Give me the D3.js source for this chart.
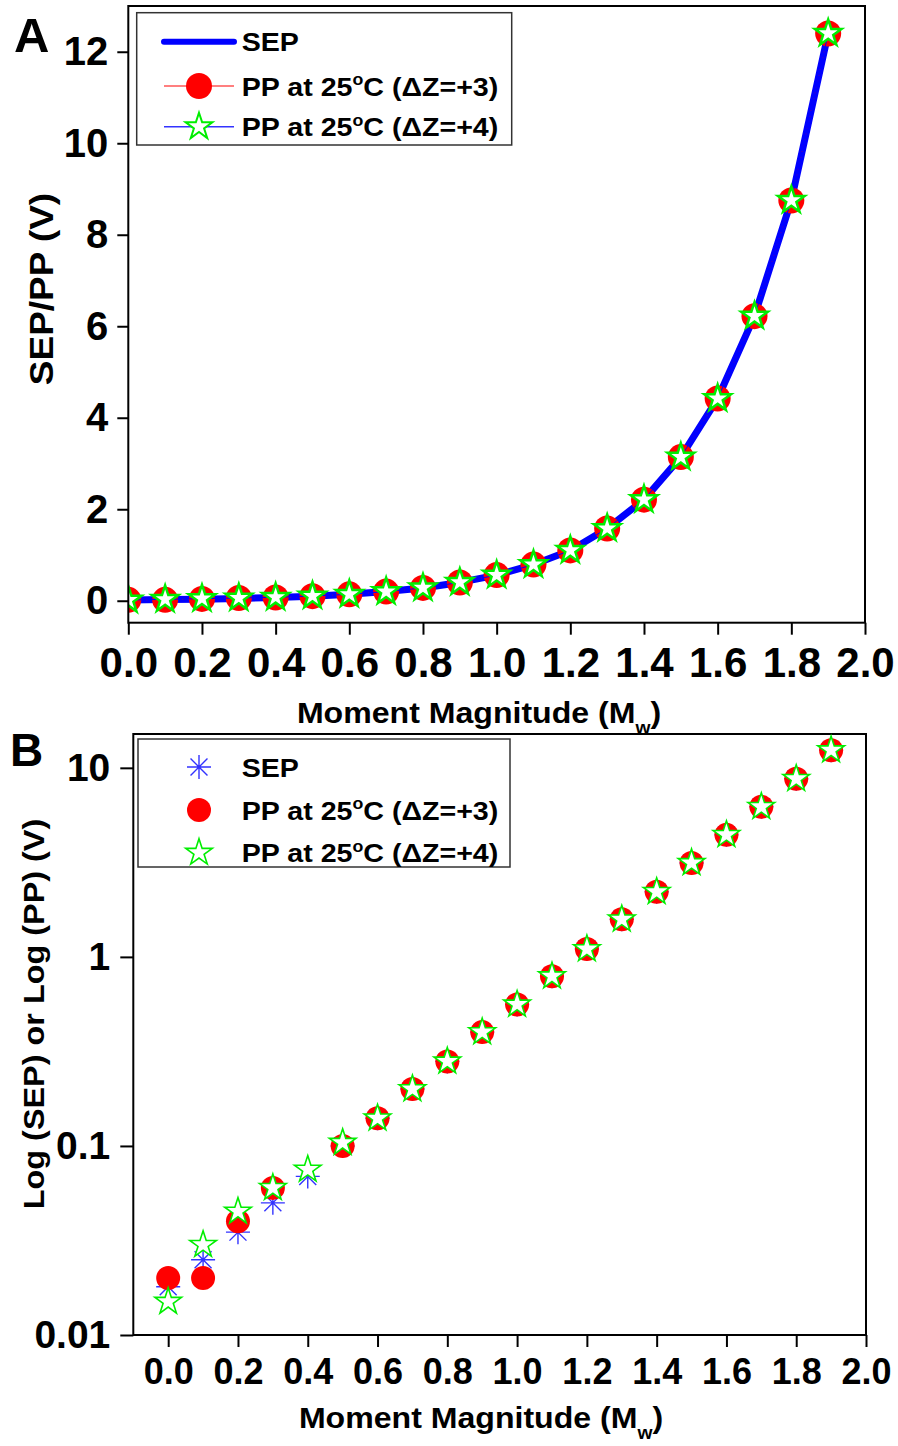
<!DOCTYPE html>
<html><head><meta charset="utf-8">
<script src="https://cdn.jsdelivr.net/npm/d3@7"></script>
<style>
body{margin:0;background:#fff}
svg{display:block}
text{font-family:"Liberation Sans",Arial,Helvetica,sans-serif;font-weight:bold;fill:#000}
</style></head>
<body><svg id="chart" width="898" height="1446"></svg>
<script>
// ---------- data ----------
const magnitudes = [0.0,0.1,0.2,0.3,0.4,0.5,0.6,0.7,0.8,0.9,1.0,1.1,1.2,1.3,1.4,1.5,1.6,1.7,1.8,1.9];
const sepValues  = [0.018,0.025,0.035,0.05,0.069,0.1,0.14,0.2,0.28,0.4,0.56,0.79,1.1,1.58,2.21,3.14,4.42,6.22,8.75,12.4];
const pp3Values  = [0.02,0.02,0.04,0.06,0.07,0.1,0.14,0.2,0.28,0.4,0.56,0.79,1.1,1.58,2.21,3.14,4.42,6.22,8.75,12.4];
const pp4Values  = [0.015,0.03,0.045,0.06,0.075,0.104,0.14,0.2,0.28,0.4,0.56,0.79,1.1,1.58,2.21,3.14,4.42,6.22,8.75,12.4];
const pp3HiddenInLogPanel = [0.4];
const xTickValues = [0.0,0.2,0.4,0.6,0.8,1.0,1.2,1.4,1.6,1.8,2.0];
const yTicksLinear = [0,2,4,6,8,10,12];
const yTicksLog = [0.01,0.1,1,10];
const yTickLabelsLog = ["0.01","0.1","1","10"];
const seriesNames = ["SEP","PP at 25°C (ΔZ=+3)","PP at 25°C (ΔZ=+4)"];
const xTitle = ["Moment Magnitude (M","w",")"];
const yTitleA = "SEP/PP (V)";
const yTitleB = "Log (SEP) or Log (PP) (V)";
const panelLabels = ["A","B"];

// ---------- helpers ----------
const svg = d3.select("#chart");
const RED = "#ff0000", GREEN = "#00ee00", BLUE = "#0000ff", AST = "#3333ff";

function starPath(R){ return d3.symbol(d3.symbolStar, R*R/0.8908130915292852)(); }
function asteriskPath(h){ const d=h*Math.SQRT1_2; return `M${-h},0L${h},0M0,${-h}L0,${h}M${-d},${-d}L${d},${d}M${-d},${d}L${d},${-d}`; }

function labelText(parent, x, y, str, fs, sx, anchor){
  const g = parent.append("g").attr("transform",`translate(${x},${y}) scale(${sx},1)`);
  const t = g.append("text").attr("font-size",fs).attr("text-anchor",anchor||"start");
  const parts = str.split("°");
  parts.forEach((p,i)=>{
    if(i>0){
      t.append("tspan").attr("font-size",fs*0.62).attr("dy",-fs*0.4).text("o");
      t.append("tspan").attr("dy",fs*0.4).text(p);
    } else t.append("tspan").text(p);
  });
  return g;
}
function axisTitle(parent, x, y, fs, sx){
  const g = parent.append("g").attr("transform",`translate(${x},${y}) scale(${sx},1)`);
  const t = g.append("text").attr("font-size",fs).attr("text-anchor","middle");
  t.append("tspan").text(xTitle[0]);
  t.append("tspan").attr("font-size",fs*0.6).attr("dy",fs*0.36).text(xTitle[1]);
  t.append("tspan").attr("dy",-fs*0.36).text(xTitle[2]);
}
function styleAxis(g, fs){
  g.select(".domain").remove();
  g.selectAll(".tick line").attr("stroke","#000").attr("stroke-width",2);
  g.selectAll(".tick text").attr("font-size",fs).attr("fill","#000")
    .attr("font-family",'"Liberation Sans",Arial,sans-serif').attr("font-weight","bold");
}

// ================= PANEL A =================
const xA = d3.scaleLinear().domain([0,2]).range([128.3,865]);
const yA = d3.scaleLinear().domain([-0.48,13.0]).range([622.7,6]);

svg.append("defs").append("clipPath").attr("id","clipA")
  .append("rect").attr("x",xA.range()[0]).attr("y",yA.range()[1])
  .attr("width",xA.range()[1]-xA.range()[0]).attr("height",yA.range()[0]-yA.range()[1]);

const gA = svg.append("g");
const axA = gA.append("g").attr("transform",`translate(0,${yA.range()[0]})`)
  .call(d3.axisBottom(xA).tickValues(xTickValues).tickFormat(d3.format(".1f")).tickSize(12).tickPadding(12));
styleAxis(axA,42);
const ayA = gA.append("g").attr("transform",`translate(${xA.range()[0]},0)`)
  .call(d3.axisLeft(yA).tickValues(yTicksLinear).tickFormat(d3.format("d")).tickSize(11).tickPadding(9));
styleAxis(ayA,40);

const plotA = gA.append("g").attr("clip-path","url(#clipA)");
const lineA = (vals)=>d3.line().x((d,i)=>xA(magnitudes[i])).y(d=>yA(d))(vals);
plotA.append("path").attr("d",lineA(sepValues)).attr("fill","none").attr("stroke",BLUE)
  .attr("stroke-width",7).attr("stroke-linejoin","round").attr("stroke-linecap","round");
plotA.append("path").attr("d",lineA(pp3Values)).attr("fill","none").attr("stroke",RED)
  .attr("stroke-width",1).attr("stroke-dasharray","1,5").attr("opacity",0.8);
plotA.selectAll("circle.pp3").data(pp3Values).join("circle")
  .attr("cx",(d,i)=>xA(magnitudes[i])).attr("cy",d=>yA(d)).attr("r",13).attr("fill",RED);
plotA.append("path").attr("d",lineA(pp4Values)).attr("fill","none").attr("stroke",BLUE).attr("stroke-width",1);
plotA.selectAll("path.pp4").data(pp4Values).join("path").attr("class","pp4")
  .attr("d",starPath(14)).attr("transform",(d,i)=>`translate(${xA(magnitudes[i])},${yA(d)})`)
  .attr("fill","#fff").attr("stroke",GREEN).attr("stroke-width",2.5).attr("stroke-linejoin","miter");

gA.append("rect").attr("x",xA.range()[0]).attr("y",yA.range()[1])
  .attr("width",xA.range()[1]-xA.range()[0]).attr("height",yA.range()[0]-yA.range()[1])
  .attr("fill","none").attr("stroke","#000").attr("stroke-width",2);

// legend A
const legA = gA.append("g");
legA.append("rect").attr("x",136.7).attr("y",12.7).attr("width",375).attr("height",132.3)
  .attr("fill","#fff").attr("stroke","#333").attr("stroke-width",1.5);
const rowsA = [41.7,86,126.7];
legA.append("line").attr("x1",164).attr("x2",234).attr("y1",rowsA[0]).attr("y2",rowsA[0])
  .attr("stroke",BLUE).attr("stroke-width",6).attr("stroke-linecap","round");
legA.append("line").attr("x1",164).attr("x2",234).attr("y1",rowsA[1]).attr("y2",rowsA[1])
  .attr("stroke","#ff5555").attr("stroke-width",1.5);
legA.append("circle").attr("cx",199).attr("cy",rowsA[1]).attr("r",13).attr("fill",RED);
legA.append("line").attr("x1",164).attr("x2",234).attr("y1",rowsA[2]).attr("y2",rowsA[2])
  .attr("stroke","#3333ff").attr("stroke-width",1.5);
legA.append("path").attr("d",starPath(14)).attr("transform",`translate(199,${rowsA[2]})`)
  .attr("fill","#fff").attr("stroke",GREEN).attr("stroke-width",2);
seriesNames.forEach((s,i)=>labelText(legA,241.7,rowsA[i]+9.5,s,26,1.1,"start"));

// titles A
axisTitle(gA, 479, 723.3, 30, 1.07);
{
  const g = gA.append("g").attr("transform","translate(53,289) rotate(-90) scale(1.12,1)");
  g.append("text").attr("font-size",33).attr("text-anchor","middle").text(yTitleA);
}
gA.append("text").attr("x",14).attr("y",52).attr("font-size",49).text(panelLabels[0]);

// ================= PANEL B =================
const xB = d3.scaleLinear().domain([-0.1,2.0]).range([133.3,866]);
const yB = d3.scaleLog().domain([0.01,15.1]).range([1335,734]);
const gB = svg.append("g");

const axB = gB.append("g").attr("transform",`translate(0,${yB.range()[0]})`)
  .call(d3.axisBottom(xB).tickValues(xTickValues).tickFormat(d3.format(".1f")).tickSize(12).tickPadding(11));
styleAxis(axB,36);
const ayB = gB.append("g").attr("transform",`translate(${xB.range()[0]},0)`)
  .call(d3.axisLeft(yB).tickValues(yTicksLog).tickFormat((d,i)=>yTickLabelsLog[i]).tickSize(13).tickPadding(10));
styleAxis(ayB,39);

gB.append("rect").attr("x",xB.range()[0]).attr("y",yB.range()[1])
  .attr("width",xB.range()[1]-xB.range()[0]).attr("height",yB.range()[0]-yB.range()[1])
  .attr("fill","none").attr("stroke","#000").attr("stroke-width",2);

// points B
gB.selectAll("path.sep").data(sepValues).join("path").attr("class","sep")
  .attr("d",asteriskPath(12)).attr("transform",(d,i)=>`translate(${xB(magnitudes[i])},${yB(d)})`)
  .attr("fill","none").attr("stroke",AST).attr("stroke-width",1.4);
gB.selectAll("circle.pp3").data(pp3Values.map((v,i)=>({m:magnitudes[i],v})).filter(d=>!pp3HiddenInLogPanel.includes(d.m)))
  .join("circle").attr("class","pp3")
  .attr("cx",d=>xB(d.m)).attr("cy",d=>yB(d.v)).attr("r",12).attr("fill",RED);
gB.selectAll("path.pp4").data(pp4Values).join("path").attr("class","pp4")
  .attr("d",starPath(14)).attr("transform",(d,i)=>`translate(${xB(magnitudes[i])},${yB(d)})`)
  .attr("fill","#fff").attr("stroke",GREEN).attr("stroke-width",1.6);

// legend B
const legB = gB.append("g");
legB.append("rect").attr("x",138).attr("y",739).attr("width",372).attr("height",128)
  .attr("fill","#fff").attr("stroke","#333").attr("stroke-width",1.5);
const rowsB = [767,810,852.7];
legB.append("path").attr("d",asteriskPath(12)).attr("transform",`translate(199,${rowsB[0]})`)
  .attr("fill","none").attr("stroke",AST).attr("stroke-width",1.4);
legB.append("circle").attr("cx",199).attr("cy",rowsB[1]).attr("r",12).attr("fill",RED);
legB.append("path").attr("d",starPath(14)).attr("transform",`translate(199,${rowsB[2]})`)
  .attr("fill","#fff").attr("stroke",GREEN).attr("stroke-width",1.6);
seriesNames.forEach((s,i)=>labelText(legB,241.7,rowsB[i]+9.5,s,26,1.1,"start"));

// titles B
axisTitle(gB, 481, 1428, 30, 1.07);
{
  const g = gB.append("g").attr("transform","translate(44,1014) rotate(-90) scale(1.08,1)");
  g.append("text").attr("font-size",30).attr("text-anchor","middle").text(yTitleB);
}
gB.append("text").attr("x",10).attr("y",766).attr("font-size",46).text(panelLabels[1]);
</script>
</body></html>
